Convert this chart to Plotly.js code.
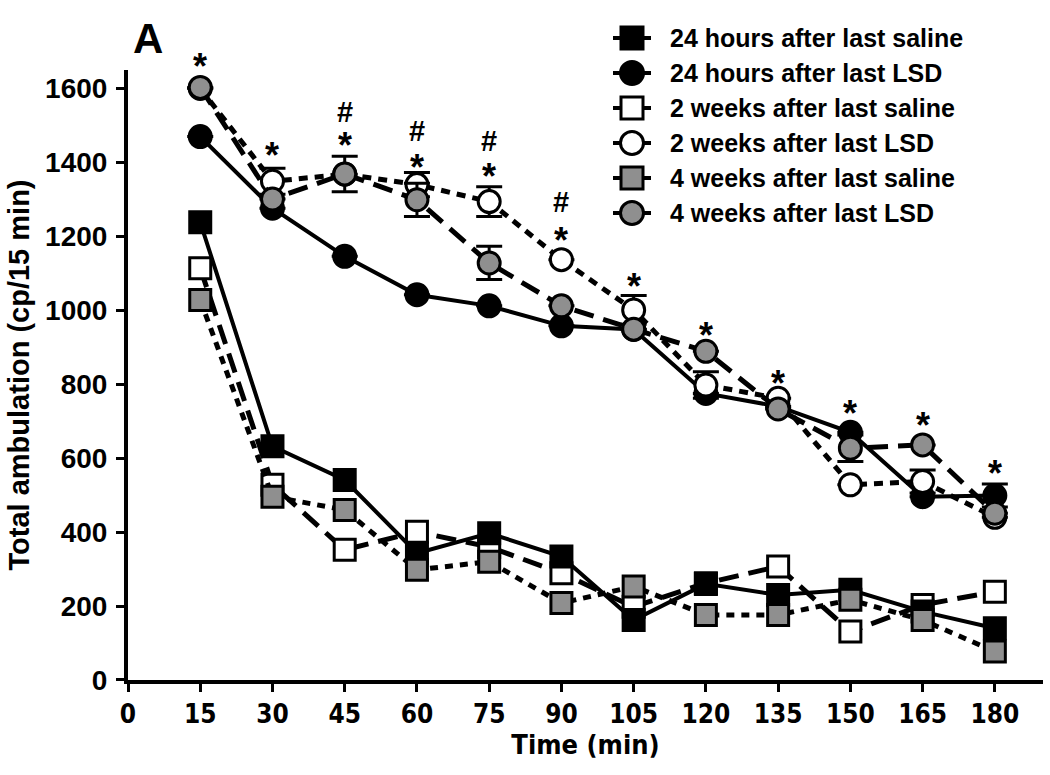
<!DOCTYPE html>
<html>
<head>
<meta charset="utf-8">
<script src="https://cdn.plot.ly/plotly-3.0.1.min.js"></script>
<style>html,body{margin:0;padding:0;background:#fff;}#chart{width:1050px;height:775px;}</style>
</head>
<body>
<div id="chart"></div>
<script>
// ---- data ----
const timeMin = [15, 30, 45, 60, 75, 90, 105, 120, 135, 150, 165, 180];
const saline24h = [1238, 632, 541, 343, 397, 334, 162, 260, 230, 244, 185, 140];
const saline2w  = [1114, 528, 352, 401, 360, 289, 198, 262, 307, 131, 203, 239];
const saline4w  = [1028, 496, 460, 298, 320, 208, 253, 176, 176, 217, 162, 77];
const lsd24h    = [1470, 1276, 1146, 1042, 1012, 958, 948, 775, 740, 670, 496, 499];
const lsd2w     = [1600, 1349, 1368, 1340, 1294, 1137, 1001, 798, 762, 528, 537, 440];
const lsd4w     = [1603, 1301, 1369, 1299, 1128, 1012, 949, 889, 733, 627, 636, 451];
const errLsd24h = [0, 0, 0, 0, 0, 0, 0, 0, 0, 0, 0, 31];
const errLsd2w  = [0, 35, 0, 33, 40, 0, 39, 36, 0, 0, 31, 0];
const errLsd4w  = [0, 0, 48, 45, 45, 0, 0, 0, 0, 36, 0, 0];
const starY = [1683, 1443, 1470, 1410, 1386, 1213, 1088, 955, 825, 744, 712, 582];
const hashX = [45, 60, 75, 90];
const hashY = [1535, 1483, 1456, 1290];
const seriesNames = [
  "24 hours after last saline",
  "24 hours after last LSD",
  "2 weeks after last saline",
  "2 weeks after last LSD",
  "4 weeks after last saline",
  "4 weeks after last LSD"
];

// ---- styles ----
const GRAY = '#8f8f8f';
const FONT = 'Liberation Sans, Arial, sans-serif';
const NARROW = 'DejaVu Sans Condensed, Liberation Sans Narrow, Liberation Sans, sans-serif';
const Y_MAX = 1650, Y_DOM_TOP = 0.9173;
const styles = {
  "24 hours after last saline": {symbol: 'square', size: 21, fill: '#000', dash: 'solid', width: 4},
  "24 hours after last LSD":    {symbol: 'circle', size: 22, fill: '#000', dash: 'solid', width: 4},
  "2 weeks after last saline":  {symbol: 'square', size: 21, fill: '#fff', dash: '20px,10px', width: 5},
  "2 weeks after last LSD":     {symbol: 'circle', size: 22, fill: '#fff', dash: '9px,7px', width: 5},
  "4 weeks after last saline":  {symbol: 'square', size: 21, fill: GRAY, dash: '8px,7px', width: 5},
  "4 weeks after last LSD":     {symbol: 'circle', size: 22, fill: GRAY, dash: '20px,10px', width: 5}
};
const seriesData = {
  "24 hours after last saline": [saline24h, null],
  "24 hours after last LSD": [lsd24h, errLsd24h],
  "2 weeks after last saline": [saline2w, null],
  "2 weeks after last LSD": [lsd2w, errLsd2w],
  "4 weeks after last saline": [saline4w, null],
  "4 weeks after last LSD": [lsd4w, errLsd4w]
};
// drawing order (bottom to top)
const drawOrder = [
  "2 weeks after last saline", "24 hours after last saline", "4 weeks after last saline",
  "24 hours after last LSD", "2 weeks after last LSD", "4 weeks after last LSD"
];

const traces = [];
drawOrder.forEach(name => {
  const st = styles[name];
  const [vals, err] = seriesData[name];
  const t = {
    type: 'scatter', mode: 'lines+markers', name: name, showlegend: false,
    x: timeMin, y: vals, xaxis: 'x', yaxis: 'y', cliponaxis: false,
    line: {color: '#000', width: st.width, dash: st.dash},
    marker: {symbol: st.symbol, size: st.size, color: st.fill, opacity: 1, line: {color: '#000', width: 3}}
  };
  if (err) t.error_y = {type: 'data', array: err, visible: true, color: '#000', thickness: 3, width: 13};
  traces.push(t);
});

// ---- custom legend (overlay axis in pixel units) ----
const legTop = 38, legStep = 35, legX = 632;
seriesNames.forEach((name, i) => {
  const st = styles[name];
  const yy = legTop + legStep * i;
  traces.push({
    type: 'scatter', mode: 'lines', showlegend: false, hoverinfo: 'skip',
    xaxis: 'x2', yaxis: 'y2', cliponaxis: false,
    x: [legX - 19, legX + 19], y: [yy, yy],
    line: {color: '#000', width: 4, dash: 'solid'}
  });
  traces.push({
    type: 'scatter', mode: 'markers', name: name, showlegend: false, hoverinfo: 'skip',
    xaxis: 'x2', yaxis: 'y2', cliponaxis: false,
    x: [legX], y: [yy],
    marker: {symbol: st.symbol, size: st.size + 1, color: st.fill, opacity: 1, line: {color: '#000', width: 3}}
  });
});

const annotations = [];
seriesNames.forEach((name, i) => {
  annotations.push({
    xref: 'x2', yref: 'y2', x: 668, y: legTop + legStep * i, xanchor: 'left', yanchor: 'middle',
    text: name, showarrow: false, font: {family: FONT, size: 25, weight: 'bold', color: '#000'}
  });
});
timeMin.forEach((t, i) => {
  annotations.push({
    xref: 'x', yref: 'paper', x: t, y: starY[i] / Y_MAX * Y_DOM_TOP, yanchor: 'middle',
    text: '*', showarrow: false, yshift: -9,
    font: {family: FONT, size: 36, weight: 'bold', color: '#000'}
  });
});
hashX.forEach((t, i) => {
  annotations.push({
    xref: 'x', yref: 'paper', x: t, y: hashY[i] / Y_MAX * Y_DOM_TOP, yanchor: 'middle',
    text: '#', showarrow: false, yshift: 1,
    font: {family: FONT, size: 29, color: '#000'}
  });
});
annotations.push({
  xref: 'paper', yref: 'paper', x: 0.022, y: 0.965, xanchor: 'center', yanchor: 'middle',
  text: 'A', showarrow: false,
  font: {family: FONT, size: 42, weight: 'bold', color: '#000'}
});

const layout = {
  width: 1050, height: 775,
  margin: {l: 128, r: 7, t: 15, b: 95},
  paper_bgcolor: '#fff', plot_bgcolor: 'rgba(0,0,0,0)',
  font: {family: FONT, color: '#000', weight: 'bold', size: 24},
  showlegend: false,
  xaxis: {
    domain: [0, 1], range: [0, 190], anchor: 'y',
    tickmode: 'array', tickvals: [0,15,30,45,60,75,90,105,120,135,150,165,180],
    showline: true, linewidth: 4, linecolor: '#000', mirror: false,
    ticks: 'outside', ticklen: 8, tickwidth: 3, tickcolor: '#000',
    showgrid: false, zeroline: false, ticklabelstandoff: 0,
    tickfont: {family: NARROW, size: 26, weight: 'bold'},
    title: {text: 'Time (min)', font: {family: NARROW, size: 27, weight: 'bold'}, standoff: 6}
  },
  yaxis: {
    domain: [0, Y_DOM_TOP], range: [0, Y_MAX], anchor: 'x',
    tickmode: 'linear', tick0: 0, dtick: 200,
    showline: true, linewidth: 4, linecolor: '#000',
    ticks: 'outside', ticklen: 8, tickwidth: 3, tickcolor: '#000',
    showgrid: false, zeroline: false, ticklabelstandoff: 3,
    tickfont: {family: FONT, size: 28, weight: 'bold'},
    title: {text: 'Total ambulation (cp/15 min)', font: {family: FONT, size: 29, weight: 'bold'}, standoff: 8}
  },
  xaxis2: {domain: [0, 1], range: [128, 1043], anchor: 'y2', visible: false, fixedrange: true},
  yaxis2: {domain: [0, 1], range: [680, 15], anchor: 'x2', visible: false, fixedrange: true},
  annotations: annotations
};

Plotly.newPlot('chart', traces, layout, {displayModeBar: false, staticPlot: true});
</script>
</body>
</html>
